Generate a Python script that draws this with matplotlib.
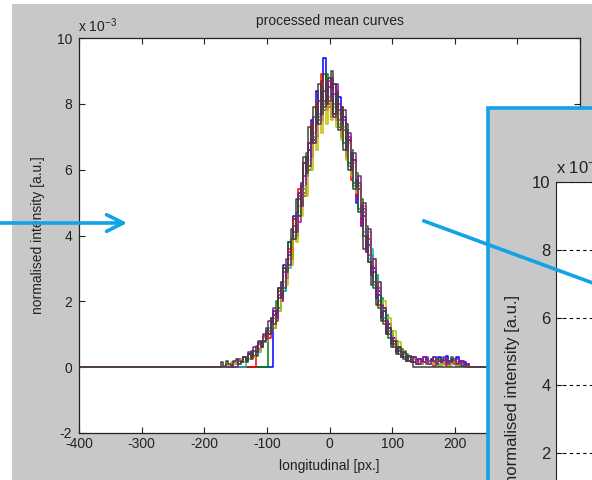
import numpy as np
import matplotlib
matplotlib.use('Agg')
import matplotlib.pyplot as plt
from matplotlib.patches import Rectangle

plt.rcParams['font.family'] = ['Liberation Sans', 'DejaVu Sans']
plt.rcParams['axes.unicode_minus'] = False

# longitudinal position [px.] of the samples
x = np.arange(-176, 225, 4)

# normalised intensity [x 1e-3], one list per processed mean curve
curve_gray = [0, 0.15, 0.05, 0.2, 0.1, 0.05, 0.2, 0.25, 0.1, 0.15,
              0.3, 0.15, 0.4, 0.25, 0.5, 0.35, 0.75, 0.6, 0.8, 1.2,
              1.0, 1.5, 1.3, 1.7, 2.4, 2.1, 3.0, 2.9, 3.4, 4.2,
              3.9, 5.1, 4.6, 5.5, 6.4, 5.9, 7.3, 6.8, 7.9, 7.4,
              8.6, 7.7, 8.9, 8.0, 8.5, 9.0, 7.7, 8.3, 7.2, 7.9,
              6.6, 7.4, 6.0, 6.5, 5.4, 5.7, 4.7, 4.9, 3.6, 4.0,
              3.2, 2.5, 2.9, 1.9, 2.2, 1.4, 1.7, 1.0, 1.2, 0.6,
              0.8, 0.4, 0.6, 0.3, 0.45, 0.2, 0.35, 0.15, 0, 0,
              0, 0, 0, 0, 0, 0, 0, 0, 0, 0,
              0, 0, 0, 0, 0, 0, 0, 0, 0, 0,
              0]
curve_blue = [0, 0, 0, 0, 0, 0, 0, 0, 0, 0,
              0, 0, 0, 0, 0, 0, 0, 0, 0, 0,
              0, 0, 1.7, 1.5, 2.4, 2.2, 3.1, 2.7, 3.8, 3.4,
              4.6, 4.2, 5.3, 4.9, 6.2, 5.8, 6.6, 7.5, 6.9, 8.4,
              7.6, 8.7, 9.4, 8.1, 8.8, 7.9, 8.6, 7.5, 8.2, 7.0,
              7.6, 6.4, 6.9, 5.8, 6.3, 5.0, 5.4, 4.3, 4.6, 3.5,
              3.7, 2.8, 3.0, 2.1, 2.3, 1.5, 1.8, 1.0, 1.3, 0.7,
              0.9, 0.45, 0.6, 0.3, 0.45, 0.2, 0.35, 0.15, 0.3, 0.1,
              0.25, 0.1, 0.3, 0.15, 0.1, 0.25, 0.2, 0.1, 0.3, 0.15,
              0.2, 0.35, 0.1, 0.25, 0.15, 0.3, 0.1, 0.2, 0.15, 0.1,
              0]
curve_green = [0, 0, 0, 0, 0, 0, 0, 0, 0, 0,
               0, 0, 0, 0, 0, 0, 0, 0, 0, 0,
               1.1, 1.4, 1.2, 2.0, 1.8, 2.6, 2.3, 3.0, 3.8, 3.3,
               4.5, 4.0, 5.1, 5.6, 5.2, 6.5, 6.0, 7.3, 6.8, 8.0,
               7.5, 8.3, 7.8, 8.9, 8.0, 8.6, 7.7, 8.4, 7.3, 7.9,
               6.8, 7.2, 6.2, 6.6, 5.6, 5.9, 4.8, 5.1, 4.0, 4.3,
               3.2, 3.4, 2.4, 2.8, 1.8, 2.1, 1.3, 1.6, 0.9, 1.1,
               0.6, 0.8, 0.4, 0.55, 0.25, 0.4, 0.2, 0.3, 0.15, 0.25,
               0.1, 0.2, 0.15, 0.3, 0.1, 0.2, 0.15, 0.1, 0.25, 0.1,
               0.15, 0.2, 0.1, 0.3, 0.15, 0.1, 0.2, 0.1, 0.05, 0.1,
               0]
curve_red = [0, 0, 0, 0, 0, 0, 0, 0, 0, 0,
             0, 0, 0, 0, 0, 0.55, 0.7, 0.6, 0.95, 1.1,
             0.9, 1.5, 1.6, 1.4, 2.3, 2.0, 3.0, 2.8, 3.6, 3.3,
             4.5, 4.2, 5.4, 5.0, 6.2, 5.9, 6.8, 7.4, 6.9, 8.0,
             7.6, 8.9, 8.1, 8.6, 7.9, 8.8, 7.7, 8.4, 7.5, 7.8,
             7.2, 6.4, 6.9, 5.7, 6.3, 5.2, 5.5, 4.4, 4.7, 3.6,
             3.4, 3.0, 2.6, 2.4, 1.9, 1.8, 1.4, 1.3, 1.0, 0.8,
             0.7, 0.5, 0.55, 0.35, 0.4, 0.25, 0.3, 0.2, 0.25, 0.15,
             0.2, 0.1, 0.15, 0.2, 0.1, 0.15, 0.05, 0.2, 0.1, 0.15,
             0.1, 0.05, 0.15, 0.1, 0.2, 0.05, 0.1, 0.15, 0.05, 0,
             0]
curve_cyan = [0, 0, 0, 0, 0, 0, 0, 0, 0, 0,
              0, 0.3, 0.25, 0.4, 0.35, 0.5, 0.45, 0.7, 0.8, 0.9,
              1.2, 1.1, 1.5, 1.8, 1.7, 2.4, 2.3, 3.1, 3.0, 3.8,
              3.9, 4.7, 4.6, 5.5, 5.4, 6.3, 6.1, 7.0, 7.0, 7.6,
              7.7, 8.1, 8.0, 8.5, 8.2, 8.4, 8.0, 8.2, 7.4, 7.6,
              6.8, 6.9, 6.1, 6.3, 5.5, 5.6, 4.8, 4.9, 4.1, 4.2,
              3.3, 3.6, 2.5, 2.8, 2.0, 2.1, 1.5, 1.6, 1.1, 1.0,
              0.8, 0.65, 0.55, 0.45, 0.4, 0.3, 0.3, 0.2, 0.25, 0.15,
              0.2, 0.1, 0.15, 0.15, 0.1, 0.2, 0.1, 0.15, 0.05, 0.1,
              0.15, 0.1, 0.05, 0.1, 0.1, 0.15, 0.05, 0.1, 0.05, 0,
              0]
curve_magenta = [0, 0, 0, 0, 0, 0, 0.15, 0.1, 0.25, 0.2,
                 0.3, 0.25, 0.4, 0.5, 0.35, 0.65, 0.55, 0.8, 0.75, 1.1,
                 1.0, 1.4, 1.6, 1.5, 2.2, 2.0, 2.9, 2.7, 3.5, 3.8,
                 4.1, 4.6, 4.4, 5.6, 5.3, 6.2, 6.8, 6.4, 7.6, 7.0,
                 8.1, 7.5, 8.4, 7.8, 8.7, 7.6, 8.3, 7.5, 8.0, 7.1,
                 7.5, 6.4, 7.0, 5.8, 6.3, 5.1, 5.6, 4.3, 4.8, 3.5,
                 3.9, 2.8, 3.0, 2.1, 2.4, 1.6, 1.7, 1.2, 1.3, 0.8,
                 0.9, 0.5, 0.6, 0.3, 0.5, 0.2, 0.35, 0.15, 0.3, 0.1,
                 0.25, 0.15, 0.3, 0.1, 0.2, 0.15, 0.3, 0.1, 0.2, 0.15,
                 0.25, 0.1, 0.2, 0.15, 0.1, 0.25, 0.1, 0.15, 0.05, 0.1,
                 0]
curve_yellow = [0, 0, 0, 0.1, 0.05, 0.15, 0.1, 0.2, 0.1, 0.25,
                0.15, 0.3, 0.25, 0.4, 0.3, 0.55, 0.5, 0.65, 0.9, 0.8,
                1.1, 1.3, 1.2, 1.8, 1.7, 2.3, 2.6, 2.5, 3.3, 3.1,
                4.0, 3.8, 4.9, 4.6, 5.5, 5.2, 6.3, 6.0, 7.1, 6.6,
                7.6, 7.1, 8.0, 7.4, 8.2, 7.5, 7.9, 7.3, 7.7, 6.9,
                7.3, 6.3, 6.8, 5.8, 6.2, 5.3, 5.5, 4.6, 4.9, 3.9,
                4.1, 3.1, 3.3, 2.5, 2.6, 1.9, 2.0, 1.5, 1.5, 1.0,
                1.1, 0.6, 0.75, 0.4, 0.5, 0.3, 0.35, 0.2, 0.25, 0.15,
                0.2, 0.1, 0.15, 0.2, 0.1, 0.15, 0.1, 0.2, 0.1, 0.05,
                0.15, 0.1, 0.05, 0.1, 0.15, 0.05, 0.1, 0.05, 0, 0,
                0]
curve_purple = [0, 0, 0, 0, 0, 0, 0, 0, 0.2, 0.15,
                0.3, 0.2, 0.45, 0.3, 0.6, 0.45, 0.8, 0.6, 1.0, 0.85,
                1.4, 1.1, 1.8, 1.6, 2.1, 2.6, 2.4, 3.3, 3.1, 3.9,
                4.3, 4.1, 5.2, 4.9, 5.8, 6.4, 6.1, 7.1, 6.8, 7.7,
                7.4, 8.4, 7.9, 8.6, 8.1, 8.3, 7.6, 8.6, 7.8, 7.5,
                7.8, 6.6, 7.1, 6.0, 6.5, 5.5, 5.8, 4.6, 5.0, 3.9,
                4.2, 3.0, 3.3, 2.4, 2.6, 1.9, 1.8, 1.4, 1.2, 0.9,
                0.8, 0.6, 0.5, 0.45, 0.3, 0.35, 0.2, 0.3, 0.15, 0.25,
                0.1, 0.2, 0.15, 0.25, 0.1, 0.2, 0.3, 0.1, 0.2, 0.15,
                0.3, 0.1, 0.2, 0.15, 0.25, 0.1, 0.2, 0.05, 0.1, 0.05,
                0]

curves = [curve_blue, curve_green, curve_red, curve_cyan,
          curve_magenta, curve_yellow, curve_purple, curve_gray]
colours = [(0, 0, 1), (0, 0.5, 0), (1, 0, 0), (0, 0.75, 0.75),
           (0.75, 0, 0.75), (0.75, 0.75, 0), (0.45, 0.15, 0.5),
           (0.25, 0.25, 0.25)]

BLUE = '#12a2e6'
GREY = '#c8c8c8'
W, H = 592, 480

fig = plt.figure(figsize=(W / 100, H / 100), dpi=100, facecolor='white')
fig.add_artist(Rectangle((12 / W, 0), 1, (H - 4) / H, transform=fig.transFigure,
                         facecolor=GREY, edgecolor='none', zorder=-10))


def px(left, top, right, bottom):
    return [left / W, (H - bottom) / H, (right - left) / W, (bottom - top) / H]


# main axes
ax = fig.add_axes(px(79, 38, 580, 433))
xe = np.concatenate([[-400, x[0] - 4], x, [x[-1] + 4, 400]])
for c, col in zip(curves, colours):
    ye = np.concatenate([[0, 0], c, [0, 0]])
    ax.plot(xe, ye, color=col, lw=1.1, drawstyle='steps-mid')
ax.set_xlim(-400, 400)
ax.set_ylim(-2, 10)
ax.set_xticks(np.arange(-400, 401, 100))
ax.set_yticks(np.arange(-2, 11, 2))
ax.tick_params(direction='in', top=True, right=True, length=4, width=0.8,
               labelsize=10, colors='#222222', pad=5)
ax.tick_params(axis='x', pad=3)
for s in ax.spines.values():
    s.set_color('#222222')
    s.set_linewidth(0.9)
ax.set_title('processed mean curves', fontsize=10, pad=9, color='#222222')
ax.set_xlabel('longitudinal [px.]', fontsize=10, color='#222222')
ax.set_ylabel('normalised intensity [a.u.]', fontsize=10, color='#222222')
ax.xaxis.set_label_coords(0.5, -0.066)
ax.yaxis.set_label_coords(-0.068, 0.5)
fig.text(78 / W, (H - 32) / H, r'x 10$^{\mathregular{-3}}$', fontsize=10,
         color='#222222', ha='left', va='baseline')

# inset panel (zoomed copy of the figure)
ov = fig.add_axes([0, 0, 1, 1], zorder=2)
ov.set_xlim(0, W)
ov.set_ylim(H, 0)
ov.axis('off')
ov.add_patch(Rectangle((488, 108), 200, 450, facecolor=GREY, edgecolor=BLUE,
                       lw=2.6))

ins = fig.add_axes(px(556, 182, 800, 521), zorder=3)
ins.set_ylim(0, 10)
ins.set_xlim(0, 1)
ins.set_yticks([2, 4, 6, 8, 10])
ins.set_xticks([])
ins.grid(axis='y', color='black', linestyle=(0, (3, 3)), lw=0.8)
ins.tick_params(direction='in', length=4, labelsize=12, colors='#222222', pad=4)
for s in ins.spines.values():
    s.set_color('#222222')
fig.text(513 / W, (H - 390) / H, 'normalised intensity [a.u.]', fontsize=12,
         rotation=90, ha='center', va='center', color='#222222')
fig.text(556 / W, (H - 173) / H, r'x 10$^{\mathregular{-3}}$', fontsize=12,
         color='#222222', ha='left', va='baseline')

# arrows on top
top = fig.add_axes([0, 0, 1, 1], zorder=5)
top.set_xlim(0, W)
top.set_ylim(H, 0)
top.axis('off')
top.annotate('', xy=(130, 223), xytext=(-5, 223),
             arrowprops=dict(arrowstyle='->,head_length=1.2,head_width=0.6',
                             color=BLUE, lw=2.6))
top.plot([424, 650], [221, 304], color=BLUE, lw=2.6, clip_on=False)

fig.savefig('out.png', dpi=100)
